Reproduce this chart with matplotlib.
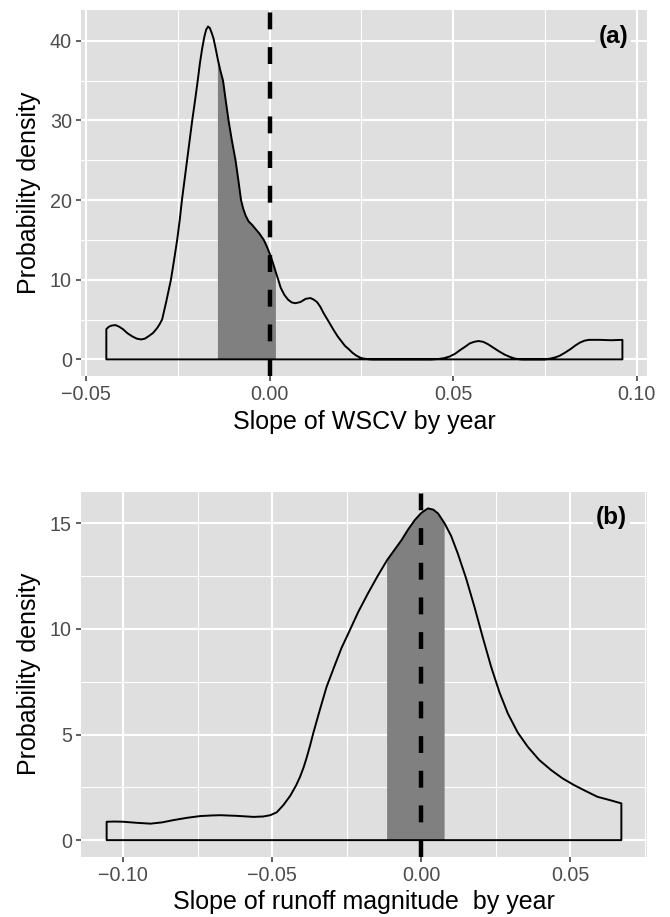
import matplotlib
matplotlib.use("Agg")
import matplotlib.pyplot as plt
import numpy as np
from matplotlib.ticker import FixedLocator

plt.rcParams['font.family'] = ['Liberation Sans', 'DejaVu Sans']

# ---------------- Panel (a): Slope of WSCV by year ----------------
wscv_x = [-0.0445, -0.0438, -0.0430, -0.0420, -0.0410, -0.0400, -0.0388, -0.0375,
          -0.0362, -0.0350, -0.0340, -0.0330, -0.0318, -0.0307, -0.0300, -0.0293,
          -0.0282, -0.0269, -0.0260, -0.0252, -0.0245, -0.0239, -0.0232, -0.0225,
          -0.0218, -0.0211, -0.0203, -0.0196, -0.0190, -0.0184, -0.0178, -0.0173,
          -0.0168, -0.0163, -0.0158, -0.0153, -0.0147, -0.0141, -0.0134, -0.0127,
          -0.0120, -0.0112, -0.0103, -0.0093, -0.0085, -0.0078, -0.0072, -0.0065,
          -0.0057, -0.0048, -0.0039, -0.0028, -0.0016, -0.0008, 0.0000, 0.0009,
          0.0017, 0.0022, 0.0030, 0.0040, 0.0050, 0.0060, 0.0070, 0.0084,
          0.0098, 0.0111, 0.0120, 0.0129, 0.0138, 0.0147, 0.0160, 0.0174,
          0.0185, 0.0195, 0.0205, 0.0215, 0.0225, 0.0235, 0.0245, 0.0255,
          0.0270, 0.0280, 0.0440, 0.0460, 0.0475, 0.0490, 0.0505, 0.0520,
          0.0533, 0.0545, 0.0557, 0.0569, 0.0582, 0.0595, 0.0610, 0.0625,
          0.0640, 0.0655, 0.0668, 0.0680, 0.0690, 0.0750, 0.0765, 0.0778,
          0.0790, 0.0805, 0.0820, 0.0833, 0.0845, 0.0858, 0.0870, 0.0900,
          0.0930, 0.0961]
wscv_y = [3.8, 4.1, 4.25, 4.3, 4.1, 3.8, 3.3, 2.9,
          2.6, 2.5, 2.6, 2.9, 3.3, 3.9, 4.4, 5.0,
          7.2, 10.0, 12.6, 15.0, 17.5, 20.0, 22.5, 25.0,
          27.5, 30.0, 32.6, 35.0, 37.2, 39.0, 40.5, 41.4,
          41.8, 41.6, 41.0, 40.3, 39.0, 37.6, 36.2, 35.0,
          32.6, 30.0, 27.5, 25.0, 22.4, 20.0, 18.9, 18.0,
          17.3, 16.9, 16.4, 15.8, 15.0, 14.2, 13.3, 12.1,
          10.9, 10.2, 9.0, 8.1, 7.5, 7.15, 7.05, 7.2,
          7.6, 7.7, 7.5, 7.2, 6.6, 5.8, 4.8, 3.7,
          2.9, 2.3, 1.7, 1.3, 0.85, 0.5, 0.25, 0.1,
          0.02, 0.0, 0.0, 0.05, 0.15, 0.35, 0.7, 1.2,
          1.6, 2.0, 2.2, 2.3, 2.2, 1.9, 1.45, 1.0,
          0.6, 0.3, 0.1, 0.02, 0.0, 0.0, 0.1, 0.25,
          0.45, 0.85, 1.3, 1.75, 2.1, 2.35, 2.45, 2.45,
          2.4, 2.45]
wscv_shade = (-0.0141, 0.0017)
wscv_xticks = [-0.05, 0.00, 0.05, 0.10]
wscv_xticklabels = ["\u22120.05", "0.00", "0.05", "0.10"]
wscv_xminor = [-0.025, 0.025, 0.075]
wscv_yticks = [0, 10, 20, 30, 40]
wscv_yminor = [5, 15, 25, 35]
wscv_xlim = (-0.0514, 0.1028)
wscv_ylim = (-2.09, 43.87)

# ---------------- Panel (b): Slope of runoff magnitude by year ----------------
runoff_x = [-0.1056, -0.1030, -0.1000, -0.0955, -0.0909, -0.0870, -0.0831, -0.0785,
            -0.0741, -0.0700, -0.0675, -0.0620, -0.0563, -0.0530, -0.0507, -0.0485,
            -0.0463, -0.0440, -0.0420, -0.0407, -0.0395, -0.0385, -0.0374, -0.0363,
            -0.0340, -0.0318, -0.0290, -0.0268, -0.0245, -0.0212, -0.0179, -0.0147,
            -0.0115, -0.0090, -0.0067, -0.0045, -0.0022, 0.0000, 0.0022, 0.0040,
            0.0056, 0.0078, 0.0100, 0.0122, 0.0150, 0.0178, 0.0206, 0.0234,
            0.0262, 0.0290, 0.0323, 0.0357, 0.0395, 0.0435, 0.0473, 0.0513,
            0.0552, 0.0591, 0.0631, 0.0671]
runoff_y = [0.87, 0.88, 0.87, 0.82, 0.78, 0.84, 0.95, 1.06,
            1.14, 1.17, 1.18, 1.15, 1.10, 1.12, 1.18, 1.32,
            1.66, 2.1, 2.6, 3.0, 3.45, 3.9, 4.45, 5.05,
            6.2, 7.26, 8.3, 9.1, 9.79, 10.8, 11.69, 12.5,
            13.26, 13.75, 14.2, 14.7, 15.16, 15.5, 15.71, 15.65,
            15.47, 15.0, 14.4, 13.58, 12.4, 11.05, 9.6, 8.21,
            7.0, 6.0, 5.1, 4.42, 3.8, 3.32, 2.93, 2.6,
            2.32, 2.05, 1.9, 1.74]
runoff_shade = (-0.0115, 0.0078)
runoff_xticks = [-0.10, -0.05, 0.00, 0.05]
runoff_xticklabels = ["\u22120.10", "\u22120.05", "0.00", "0.05"]
runoff_xminor = [-0.075, -0.025, 0.025, 0.075]
runoff_yticks = [0, 5, 10, 15]
runoff_yminor = [2.5, 7.5, 12.5]
runoff_xlim = (-0.1142, 0.0757)
runoff_ylim = (-0.785, 16.5)

BG = "#DFDFDF"
SHADE = "#808080"

fig = plt.figure(figsize=(6.7, 9.17), dpi=100)
ax1 = fig.add_axes([81 / 670, 1 - 376 / 917, 566 / 670, 366 / 917])
ax2 = fig.add_axes([81 / 670, 1 - 856.7 / 917, 566 / 670, 365 / 917])


def draw(ax, xs, ys, shade, xticks, xlabels, xminor, yticks, yminor, xlim, ylim,
         xlabel, tag, tag_xy):
    xs = np.asarray(xs)
    ys = np.asarray(ys)
    ax.set_facecolor(BG)
    for s in ax.spines.values():
        s.set_visible(False)
    ax.set_axisbelow(True)
    ax.set_xlim(*xlim)
    ax.set_ylim(*ylim)
    ax.xaxis.set_major_locator(FixedLocator(xticks))
    ax.set_xticklabels(xlabels)
    ax.xaxis.set_minor_locator(FixedLocator(xminor))
    ax.yaxis.set_major_locator(FixedLocator(yticks))
    ax.set_yticklabels([str(v) for v in yticks])
    ax.yaxis.set_minor_locator(FixedLocator(yminor))
    ax.grid(which='major', color='white', linewidth=1.5)
    ax.grid(which='minor', color='white', linewidth=0.8)
    ax.tick_params(which='major', length=3.6, width=1.1, color='#333333',
                   labelcolor='#4D4D4D', labelsize=14.2, pad=3)
    ax.tick_params(which='minor', length=0)

    mask = (xs >= shade[0] - 1e-9) & (xs <= shade[1] + 1e-9)
    ax.fill_between(xs[mask], ys[mask], 0, facecolor=SHADE, edgecolor='none',
                    linewidth=0, zorder=2)
    poly = ax.fill_between(xs, ys, 0, facecolor='none', edgecolor='black',
                           linewidth=1.4, zorder=3)
    poly.set_joinstyle('round')
    ax.axvline(0, color='black', linewidth=3.2, linestyle=(0, (3.8, 4.0)),
               zorder=4)
    ax.set_xlabel(xlabel, fontsize=18, color='black', labelpad=4)
    ax.set_ylabel("Probability density", fontsize=18, color='black', labelpad=6)
    ax.text(tag_xy[0], tag_xy[1], tag, fontsize=17.5, fontweight='bold',
            ha='center', va='center', zorder=5,
            bbox=dict(boxstyle='square,pad=0.12', facecolor=BG, edgecolor='none'))


draw(ax1, wscv_x, wscv_y, wscv_shade, wscv_xticks, wscv_xticklabels, wscv_xminor,
     wscv_yticks, wscv_yminor, wscv_xlim, wscv_ylim,
     "Slope of WSCV by year", "(a)", (0.0936, 40.5))
draw(ax2, runoff_x, runoff_y, runoff_shade, runoff_xticks, runoff_xticklabels,
     runoff_xminor, runoff_yticks, runoff_yminor, runoff_xlim, runoff_ylim,
     "Slope of runoff magnitude  by year", "(b)", (0.0638, 15.3))

fig.savefig("out.png", dpi=100, facecolor='white')
